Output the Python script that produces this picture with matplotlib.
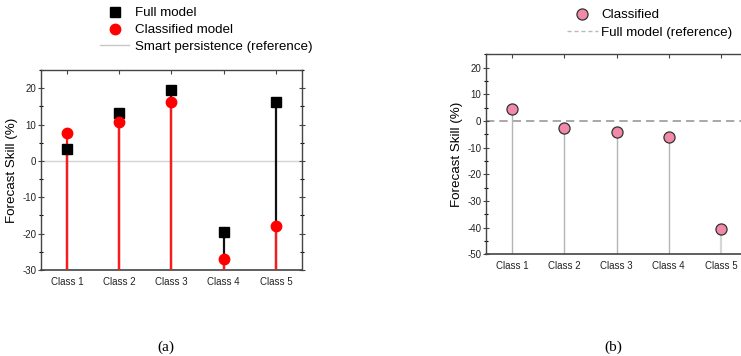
import matplotlib
matplotlib.use("Agg")
import matplotlib.pyplot as plt
from matplotlib.ticker import MultipleLocator
from matplotlib.lines import Line2D

plt.rcParams['font.family'] = ['Liberation Sans', 'DejaVu Sans']
plt.rcParams['axes.unicode_minus'] = False

classes = ['Class 1', 'Class 2', 'Class 3', 'Class 4', 'Class 5']
full_model = [3.4, 13.1, 19.6, -19.6, 16.1]
classified_model = [7.8, 10.8, 16.2, -26.9, -17.8]
classified_b = [4.5, -2.7, -4.2, -6.2, -40.4]

spine_col = '#444444'


def style_axes(ax, ymin, ymax):
    x = range(1, len(classes) + 1)
    ax.set_xlim(0.5, len(classes) + 0.5)
    ax.set_ylim(ymin, ymax)
    ax.set_xticks(list(x))
    ax.set_xticklabels(classes, fontsize=7)
    ax.yaxis.set_major_locator(MultipleLocator(10))
    ax.yaxis.set_minor_locator(MultipleLocator(5))
    ax.tick_params(axis='y', labelsize=7, colors=spine_col, labelcolor='#222222',
                   direction='inout', length=4, width=0.8, right=True, pad=1.5)
    ax.tick_params(axis='y', which='minor', direction='inout', length=2.5,
                   width=0.8, right=True)
    ax.tick_params(axis='x', top=True, bottom=False, direction='in', length=3,
                   width=0.8, colors=spine_col, labelcolor='#222222', pad=5)
    for s in ax.spines.values():
        s.set_color(spine_col)
        s.set_linewidth(1.0)
    ax.spines['bottom'].set_linewidth(1.2)
    ax.set_ylabel('Forecast Skill (%)', fontsize=9.6, labelpad=3)


fig = plt.figure(figsize=(7.41, 3.56), dpi=100)

# (a)
ax1 = fig.add_axes([0.0553, 0.2416, 0.3522, 0.5618])
style_axes(ax1, -30, 25)
xs = list(range(1, len(classes) + 1))
ax1.axhline(0, color='#d4d4d4', lw=1.0, zorder=1)
ax1.vlines(xs, -30, full_model, color='#111111', lw=1.6, zorder=2)
ax1.vlines(xs, -30, classified_model, color='#ff1a1a', lw=1.6, zorder=3)
ax1.plot(xs, full_model, 's', color='black', ms=6.5, zorder=4, clip_on=False)
ax1.plot(xs, classified_model, 'o', color='#ff0000', ms=7.5, zorder=5, clip_on=False)

handles_a = [
    Line2D([], [], ls='none', marker='s', color='black', ms=6.5),
    Line2D([], [], ls='none', marker='o', color='#ff0000', ms=7.5),
    Line2D([], [], color='#c8c8c8', lw=1.0),
]
fig.legend(handles_a, ['Full model', 'Classified model', 'Smart persistence (reference)'],
           loc='upper left', bbox_to_anchor=(100 / 741, 1 - 7 / 356), frameon=False,
           fontsize=9.6, handlelength=2.2, handletextpad=0.4, labelspacing=0.34,
           borderpad=0, borderaxespad=0)

# (b)
ax2 = fig.add_axes([0.6559, 0.2857, 0.3522, 0.5618])
style_axes(ax2, -50, 25)
ax2.axhline(0, color='#999999', lw=1.2, ls=(0, (5, 3)), zorder=1)
ax2.vlines(xs[:-1], -50, classified_b[:-1], color='#b4b4b4', lw=1.0, zorder=2)
ax2.vlines(xs[-1:], -50, classified_b[-1:], color='#d6d6d6', lw=1.6, zorder=2)
ax2.plot(xs, classified_b, 'o', color='#f08aa8', mec='#333333', mew=0.9, ms=8,
         zorder=4, clip_on=False)

handles_b = [
    Line2D([], [], ls='none', marker='o', color='#f08aa8', mec='#333333', mew=0.9, ms=8),
    Line2D([], [], color='#bbbbbb', lw=1.0, ls=(0, (3, 2))),
]
fig.legend(handles_b, ['Classified', 'Full model (reference)'],
           loc='upper left', bbox_to_anchor=(567 / 741, 1 - 9 / 356), frameon=False,
           fontsize=9.6, handlelength=2.3, handletextpad=0.25, labelspacing=0.38,
           borderpad=0, borderaxespad=0)

# captions
fig.text(166 / 741, 1 - 347 / 356, '(a)', fontsize=11, family='Liberation Serif',
         ha='center', va='center')
fig.text(613 / 741, 1 - 347 / 356, '(b)', fontsize=11, family='Liberation Serif',
         ha='center', va='center')

fig.savefig('out.png', dpi=100)
